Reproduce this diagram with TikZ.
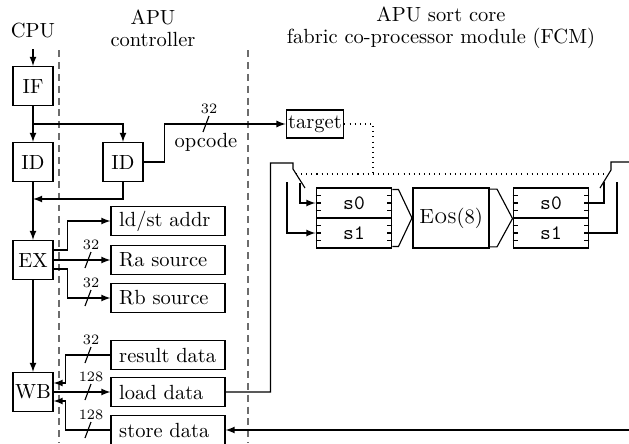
\documentclass[tikz,border=0pt]{standalone}
\usepackage{tikz}
\usetikzlibrary{calc}

% slash on a bus with its width above it
\newcommand{\buswidth}[4]{\draw (#2-3, #3+8) -- (#2+3, #3-8) node [buslbl] (#1) {#4};}

\begin{document}
\begin{tikzpicture}[x=0.488pt, y=-0.488pt, >=latex, line width=0.55pt,
  stage/.style={draw, minimum width=19.5pt, minimum height=19pt, inner sep=1pt},
  port/.style={draw, minimum height=14.2pt, text width=47.6pt, inner xsep=4pt, inner ysep=0pt, align=left},
  reg/.style={draw, minimum width=37pt, minimum height=14.6pt, inner sep=0pt, font=\ttfamily},
  bound/.style={dash pattern=on 3.4pt off 2.4pt, gray!85!black},
  ctrl/.style={dotted, line width=0.5pt},
  buslbl/.style={above, inner sep=0.8pt, font=\scriptsize}]
\useasboundingbox (0, 0) rectangle (629, 443);

\node (cpu) at (33, 31) {CPU};
\node [align=center] (apu) at (153, 28) {APU\\[-1.3pt]controller};
\node [align=center] (fcm) at (441, 28) {APU sort core\\[-1.3pt]fabric co-processor module (FCM)};

\draw [bound] (59, 50) -- (59, 443);
\draw [bound] (248, 50) -- (248, 443);

% CPU pipeline
\node [stage] (IF) at (33, 86) {IF};
\node [stage] (ID) at (33, 162) {ID};
\node [stage] (EX) at (33, 260) {EX};
\node [stage] (WB) at (33, 392) {WB};
\node [stage] (dec) at (123, 162) {ID};

\coordinate (cpuin) at (33, 49);
\coordinate (fork) at (33, 124);
\coordinate (join) at (33, 199);
\draw [->] (cpuin) -- (IF);
\draw [->] (IF) -- (ID);
\draw [->] (fork) -| (dec);
\draw [->] (ID) -- (EX);
\draw [->] (dec) |- (join);
\draw [->] (EX) -- (WB);

% controller ports
\node [draw, inner sep=1pt, minimum height=13.7pt] (target) at (315, 124) {target};
\node (opc) at (206, 142) {opcode};
\node [port] (ldst) at (168, 221) {ld/st addr};
\node [port] (ra) at (168, 260) {Ra source};
\node [port] (rb) at (168, 298) {Rb source};
\node [port] (res) at (168, 355) {result data};
\node [port] (load) at (168, 392) {load data};
\node [port] (store) at (168, 430) {store data};

\draw [->] (dec.east) -- ++(21, 0) |- (target);
\draw [->] ($(EX.east)+(0, -10)$) -- ++(14, 0) |- (ldst);
\draw [->] (EX) -- (ra);
\draw [->] ($(EX.east)+(0, 9)$) -- ++(14, 0) |- (rb);
\draw [->] (res.west) -- ++(-45, 0) |- ($(WB.east)+(0, -9)$);
\draw [->] (WB) -- (load);
\draw [->] (store.west) -- ++(-45, 0) |- ($(WB.east)+(0, 9)$);

\buswidth{w0}{206}{124}{32}
\buswidth{w1}{88}{260}{32}
\buswidth{w2}{88}{298}{32}
\buswidth{w3}{88}{355}{32}
\buswidth{w4}{88}{392}{128}
\buswidth{w5}{88}{430}{128}

% sort core
\node [reg] (ls0) at (354, 203) {s0};
\node [reg] (ls1) at (354, 233) {s1};
\node [reg] (rs0) at (551, 203) {s0};
\node [reg] (rs1) at (551, 233) {s1};
\node [draw, line width=1.1pt, minimum width=37pt, minimum height=29pt, inner sep=0pt] (eos) at (451, 218) {\textsc{Eos}(8)};

\foreach \r in {ls0, ls1, rs0, rs1} {
  \foreach \d in {-7.5, 0, 7.5} {
    \draw ($(\r.west)+(0, \d)$) -- ++(5, 0);
    \draw ($(\r.east)+(0, \d)$) -- ++(-5, 0);
  }
}

\draw ($(ls0.north east)+(0, 2)$) -- ++(6, 0) -- (eos.west) -- ($(ls1.south east)+(6, -2)$) -- ++(-6, 0);
\draw ($(eos.north east)+(0, 2)$) -- ++(7, 0) -- (rs0.south west) -- ($(eos.south east)+(7, -2)$) -- ++(-7, 0);

% input switch
\coordinate (swl) at (293, 169);
\coordinate (swlend) at (305, 188);
\coordinate (cl0) at (300, 183);
\coordinate (cl1) at (287, 182);
\draw (load.east) -- ++(45, 0) |- (293, 163) -- (swl) -- (swlend);
\draw [->] (cl0) |- (ls0);
\draw [->] (cl1) |- (ls1);

% output switch
\coordinate (swr) at (611, 170);
\coordinate (swrend) at (600, 188);
\coordinate (cr0) at (604, 182);
\coordinate (cr1) at (617, 182);
\coordinate (outr) at (629, 162);
\draw (rs0) -| (cr0);
\draw (rs1) -| (cr1);
\draw (swrend) -- (swr) |- (outr);

\coordinate (fb) at (629, 430);
\draw [->] (fb) -- (store);

% switch control
\draw [ctrl] (target) -| (373, 174);
\draw [ctrl] (296, 174) -- (608, 174);
\end{tikzpicture}
\end{document}
